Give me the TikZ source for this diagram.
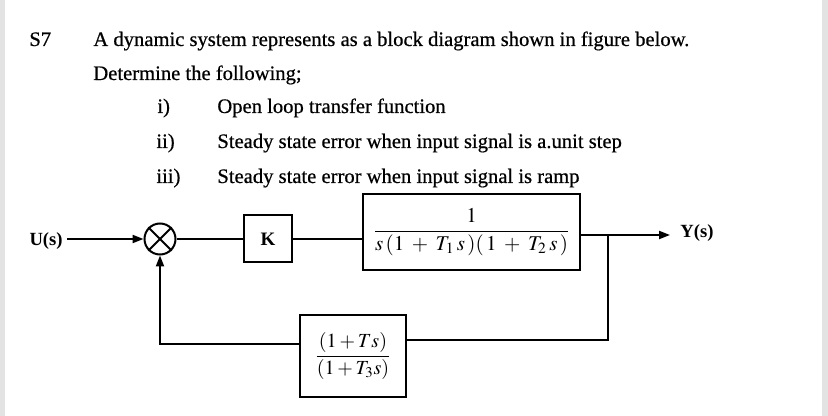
\documentclass[tikz,border=0pt]{standalone}
\usepackage{amsmath}
\usepackage{mathptmx}
\usepackage{fontspec}
\setmainfont{Liberation Serif}
\newfontfamily\scanfont[FakeBold=0.6]{Liberation Serif}
\usetikzlibrary{arrows.meta}

\begin{document}
\begin{tikzpicture}[x=0.5pt,y=-0.5pt,
  wire/.style={line width=1pt},
  arrowwire/.style={wire,-{Triangle[length=5.5pt,width=4pt]}},
  block/.style={draw,line width=1pt,inner sep=0pt},
  qtext/.style={anchor=base west,inner sep=0pt,font=\scanfont\fontsize{10.3}{12}\selectfont},
  siglabel/.style={inner sep=0pt,font=\fontsize{9.3}{11}\selectfont\bfseries}]

\useasboundingbox (0,0) rectangle (828,416);
\fill[gray!22] (0,0) rectangle (5,416);
\fill[gray!22] (822,0) rectangle (828,416);

\node[qtext] (qno) at (29,46) {S7};
\node[qtext] (line1) at (93,46) {A dynamic system represents as a block diagram shown in figure below.};
\node[qtext] (line2) at (93,80) {Determine the following;};
\node[qtext] (ino) at (157,113) {i)};
\node[qtext] (itext) at (217,113) {Open loop transfer function};
\node[qtext] (iino) at (156,148) {ii)};
\node[qtext] (iitext) at (217,148) {Steady state error when input signal is a.unit step};
\node[qtext] (iiino) at (156,183) {iii)};
\node[qtext] (iiitext) at (217,183) {Steady state error when input signal is ramp};

\node[draw,circle,line width=1pt,minimum size=15.5pt,inner sep=0pt] (sum) at (160,239) {};
\draw[wire] (sum.north west) -- (sum.south east);
\draw[wire] (sum.north east) -- (sum.south west);

\node[block,minimum width=24pt,minimum height=23.5pt,font=\fontsize{9.5}{11}\selectfont\bfseries] (K) at (268,239) {K};
\node[block,minimum width=108.5pt,minimum height=38pt,font=\fontsize{10.5}{13}\selectfont] (G) at (471.5,232) {$\dfrac{1}{s\,(1\;+\;T_1\,s\,)(\,1\;+\;T_2\,s\,)}$};
\node[block,minimum width=53pt,minimum height=41pt,font=\fontsize{10}{12}\selectfont] (H) at (353,356) {$\dfrac{(1+Ts)}{(1+T_3s)}$};

\node[siglabel,anchor=base east] (U) at (63,246) {U(s)};
\node[siglabel,anchor=base west] (Y) at (680,238) {Y(s)};

\coordinate (branch) at (608,235);
\coordinate (rc) at (608,340);
\coordinate (lc) at (160,344);

\draw[arrowwire] ([xshift=2pt]U.east |- sum.west) -- (sum.west);
\draw[wire] (sum.east) -- (sum.east -| K.west);
\draw[wire] (K.east) -- (K.east -| G.west);
\draw[arrowwire] (G.east |- branch) -- ([xshift=-5pt]Y.west |- branch);
\draw[wire] (branch) -- (rc) -- (rc -| H.east);
\draw[arrowwire] (H.west |- lc) -- (lc) -- (sum.south);

\end{tikzpicture}
\end{document}
